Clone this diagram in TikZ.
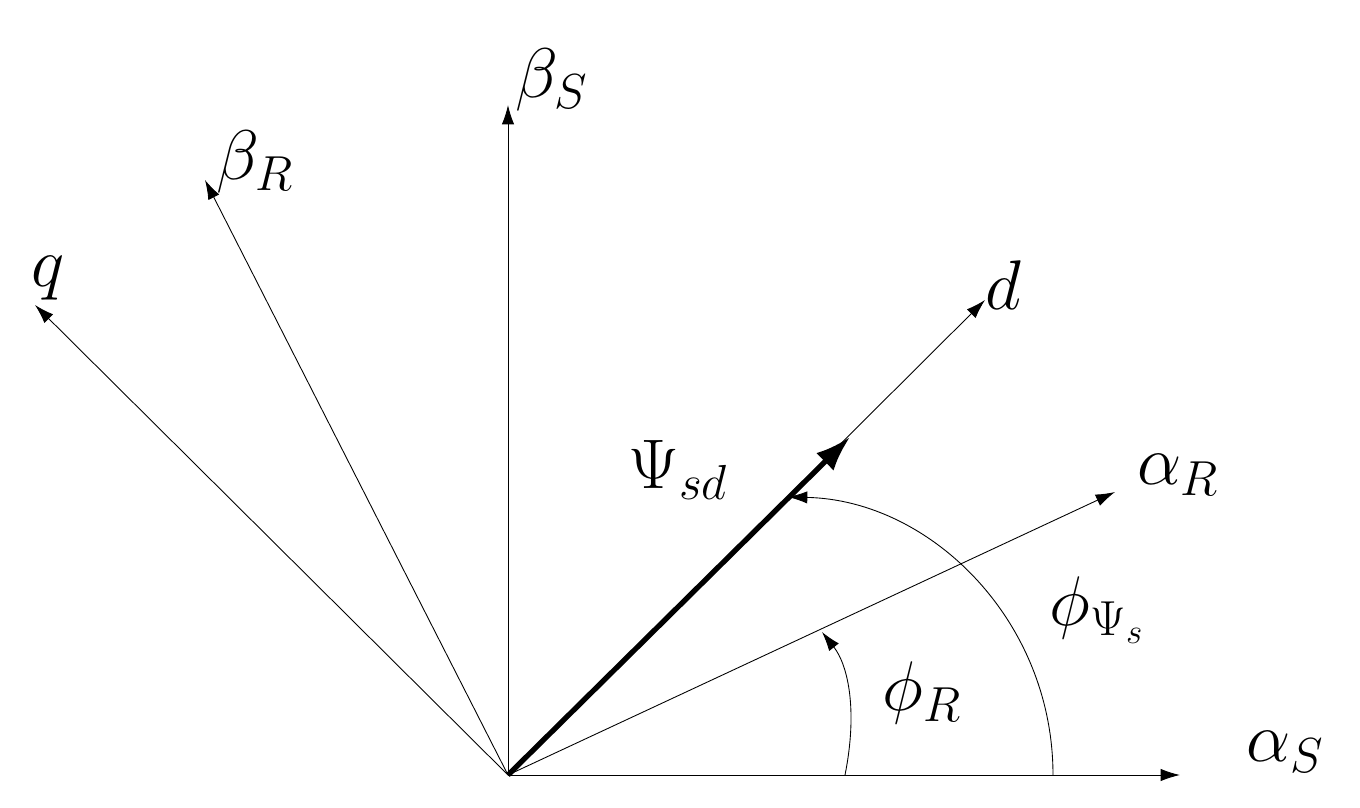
\documentclass[tikz,border=0pt]{standalone}
\usepackage{fix-cm}
\usetikzlibrary{arrows.meta}
\DeclareMathSizes{40}{40}{28}{20}
\begin{document}
\begin{tikzpicture}[x=0.02cm,y=-0.02cm,
  ax/.style={line width=0.5pt,-{Latex[length=11pt,width=7pt]}},
  lbl/.style={font=\fontsize{40}{46}\selectfont,inner sep=0pt}]
\useasboundingbox (0,0) rectangle (1360,808);
\coordinate (o) at (508,775);
\coordinate (aS) at (1180,775);
\coordinate (bS) at (508,105);
\coordinate (d) at (985,300);
\coordinate (aR) at (1115,492);
\coordinate (bR) at (205,180);
\coordinate (q) at (35,305);
\coordinate (psi) at (850,437);
\draw[ax] (o) -- (aS);
\draw[ax] (o) -- (bS);
\draw[ax] (o) -- (d);
\draw[ax] (o) -- (aR);
\draw[ax] (o) -- (bR);
\draw[ax] (o) -- (q);
\draw[line width=3pt,-{Latex[length=20pt,width=14pt]}] (o) -- (psi);
\coordinate (r0) at (845,775); \coordinate (r1) at (822,632);
\draw[ax] (r0) .. controls (858,710) and (848,665) .. (r1);
\coordinate (p0) at (1053,775); \coordinate (p1) at (788,497);
\draw[ax] (p0) .. controls (1053,620) and (930,500) .. (p1);
\node[lbl] (laS) at (1285,752) {$\alpha_S$};
\node[lbl] (lbS) at (552,80) {$\beta_S$};
\node[lbl] (lbR) at (255,162) {$\beta_R$};
\node[lbl] (lq) at (48,278) {$q$};
\node[lbl] (ld) at (1003,285) {$d$};
\node[lbl] (laR) at (1178,475) {$\alpha_R$};
\node[lbl] (lpsi) at (678,470) {$\Psi_{sd}$};
\node[lbl] (lpR) at (922,693) {$\phi_R$};
\node[lbl] (lpP) at (1097,610) {$\phi_{\Psi_s}$};
\end{tikzpicture}
\end{document}
